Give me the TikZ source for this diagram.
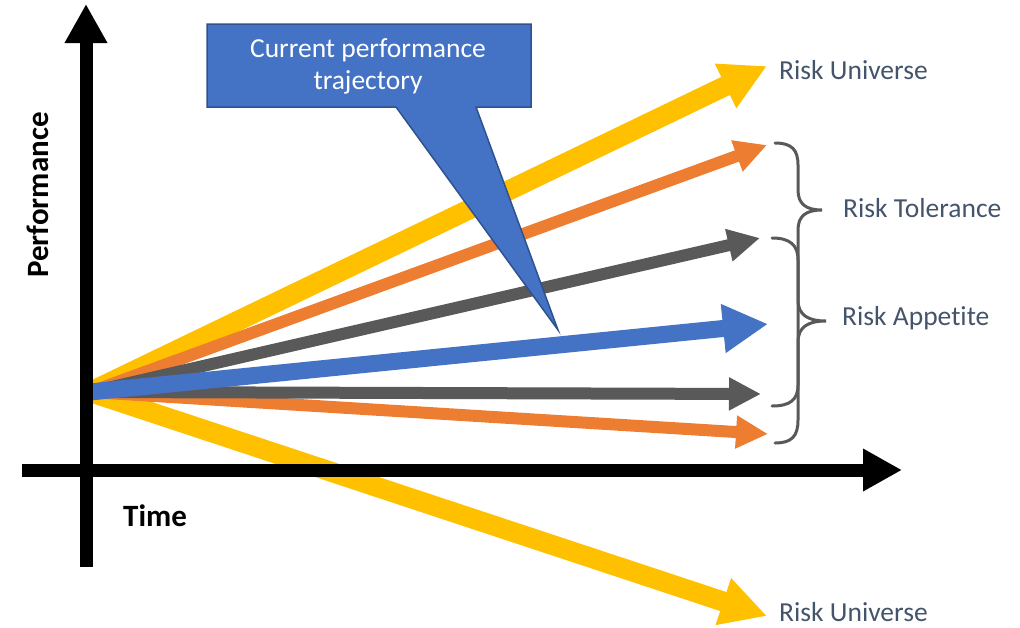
\documentclass[tikz,border=0pt]{standalone}
\usepackage{fontspec}
\setmainfont[Ligatures=NoCommon]{Carlito}
\usetikzlibrary{arrows.meta}
\definecolor{cyellow}{HTML}{FFC000}
\definecolor{corange}{HTML}{ED7D31}
\definecolor{cgrey}{HTML}{595959}
\definecolor{cblue}{HTML}{4472C4}
\definecolor{cblueedge}{HTML}{2F528F}
\definecolor{ctext}{HTML}{44546A}
\begin{document}
\begin{tikzpicture}[x=1pt,y=-1pt,
  wide/.style={line width=20pt,-{Triangle[length=46pt,width=46pt]}},
  mid/.style={line width=17pt,-{Triangle[length=45pt,width=46pt]}},
  thin/.style={line width=12pt,-{Triangle[length=32pt,width=31pt]}},
  axis/.style={line width=13pt,black,-{Triangle[length=39pt,width=40pt]}},
  bracket/.style={draw=cgrey,line width=3pt,line cap=round},
  lbl/.style={anchor=base west,inner sep=0pt,text=ctext,font=\fontsize{27.5pt}{33pt}\selectfont},
  axlbl/.style={inner sep=0pt,font=\bfseries\fontsize{31pt}{36pt}\selectfont}]
\useasboundingbox (0,0) rectangle (1020,627);

% common starting point of all trajectories
\coordinate (O) at (90,392);
% trajectory end points
\coordinate (uUp) at (767,66);
\coordinate (tUp) at (767,145);
\coordinate (aUp) at (760,238);
\coordinate (cur) at (768,324);
\coordinate (aDn) at (761,394);
\coordinate (tDn) at (768,434);
\coordinate (uDn) at (767,616);

% trajectories
\draw[wide,cyellow] (O) -- (uDn);
\draw[wide,cyellow] (O) -- (uUp);
\draw[thin,corange] (O) -- (tDn);
\draw[thin,corange] (O) -- (tUp);
\draw[thin,cgrey] (O) -- (aDn);
\draw[thin,cgrey] (O) -- (aUp);
\draw[mid,cblue] (O) -- (cur);

% axes
\coordinate (yBot) at (86,567);
\coordinate (yTop) at (86,4);
\coordinate (xLeft) at (22,470);
\coordinate (xRight) at (902,470);
\draw[axis] (yBot) -- (yTop);
\draw[axis] (xLeft) -- (xRight);
\node[axlbl,anchor=base west] (time) at (123,526) {Time};
\node[axlbl,rotate=90] (perf) at (38,195) {Performance};

% brackets
\draw[bracket] (775,143) .. controls (792,143) and (798,150) .. (798,165)
  -- (798,190) .. controls (798,204) and (806,210) .. (822,210)
  .. controls (806,210) and (798,216) .. (798,230)
  -- (798,420) .. controls (798,436) and (792,443) .. (775,443);
\draw[bracket] (772,238) .. controls (790,238) and (798,245) .. (798,260)
  -- (798,300) .. controls (798,315) and (808,321) .. (826,321)
  .. controls (808,321) and (798,327) .. (798,342)
  -- (798,385) .. controls (798,400) and (790,406) .. (772,406);

% labels
\node[lbl] (ru1) at (779,79) {Risk Universe};
\node[lbl] (ru2) at (779,621) {Risk Universe};
\node[lbl] (rt) at (843,217) {Risk Tolerance};
\node[lbl] (ra) at (842,325) {Risk Appetite};

% callout
\draw[fill=cblue,draw=cblueedge,line width=1.5pt,line join=miter]
  (207,24) -- (531,24) -- (531,107) -- (476,107) -- (558,330)
  -- (396,107) -- (207,107) -- cycle;
\node[align=center,text=white,inner sep=0pt,
  font=\fontsize{27.5pt}{32pt}\selectfont] (call) at (368,66)
  {Current performance\\trajectory};
\end{tikzpicture}
\end{document}
